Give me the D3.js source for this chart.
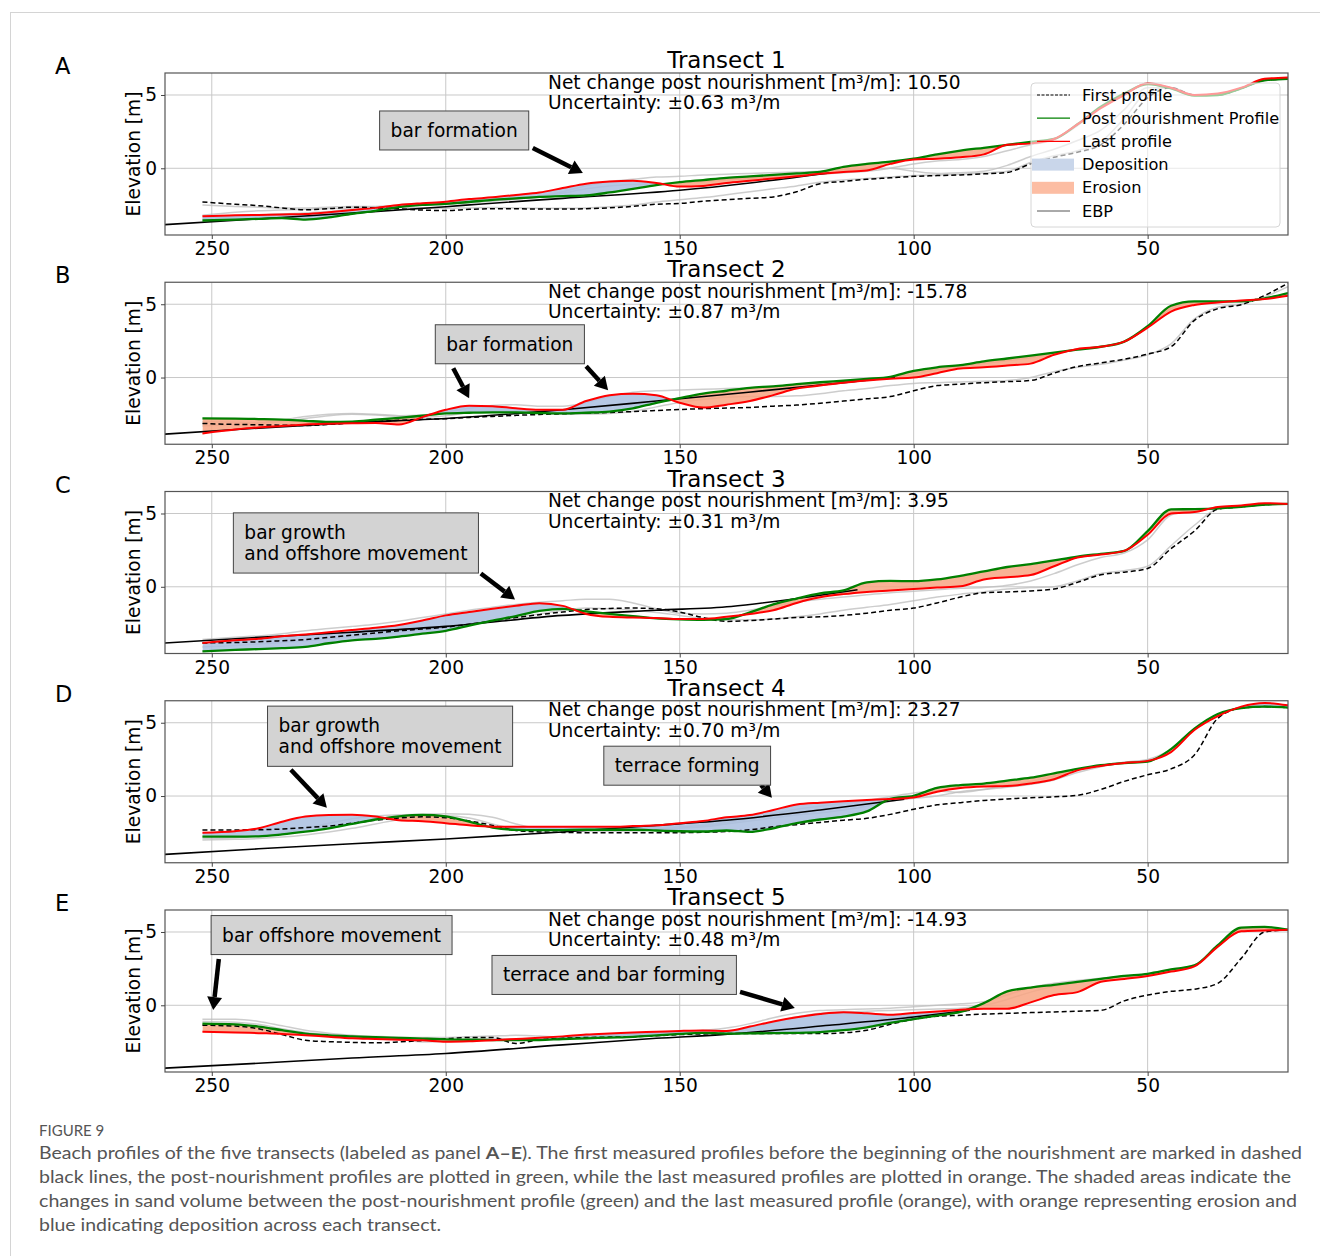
<!DOCTYPE html>
<html>
<head>
<meta charset="utf-8">
<script src="https://cdn.jsdelivr.net/npm/d3@7"></script>
<style>
  body { margin: 0; background: #fff; }
  svg { display: block; }
</style>
</head>
<body>
<div id="chart-container"></div>
<script>

// cross-shore distance grid [m] shared by all measured profiles
const dist = [252,245,240,235,230,225,220,215,210,205,200,195,190,185,180,175,170,165,160,155,150,145,140,135,130,125,120,115,110,105,100,95,90,85,80,75,70,65,60,55,50,45,40,35,30,25,20];

// Transect 1
const t1First = [-2.3,-2.45,-2.55,-2.7,-2.83,-2.75,-2.65,-2.7,-2.76,-2.85,-2.88,-2.8,-2.76,-2.76,-2.78,-2.78,-2.76,-2.7,-2.6,-2.45,-2.4,-2.25,-2.15,-2.05,-1.95,-1.6,-1.05,-0.9,-0.75,-0.65,-0.55,-0.5,-0.45,-0.38,-0.28,0.3,0.75,1.1,1.6,3.0,4.8,5.5,5.0,5.0,5.45,6.0,6.1];
const t1Post = [-3.56,-3.5,-3.45,-3.4,-3.5,-3.35,-3.1,-2.9,-2.65,-2.5,-2.42,-2.3,-2.15,-2.05,-1.95,-1.9,-1.85,-1.65,-1.4,-1.15,-0.95,-0.8,-0.65,-0.55,-0.45,-0.35,-0.25,0.1,0.3,0.45,0.66,0.95,1.2,1.4,1.6,1.8,2.0,3.0,4.2,5.1,5.75,5.45,4.95,5.0,5.45,6.0,6.1];
const t1Last = [-3.27,-3.2,-3.18,-3.15,-3.12,-3.0,-2.85,-2.7,-2.5,-2.38,-2.28,-2.1,-1.98,-1.82,-1.65,-1.35,-1.05,-0.9,-0.85,-1.0,-1.25,-1.2,-1.0,-0.85,-0.7,-0.55,-0.38,-0.25,-0.15,0.3,0.6,0.65,0.75,0.95,1.6,1.7,2.0,3.0,4.1,5.0,5.8,5.5,5.0,5.1,5.5,6.1,6.2];
const t1Gray = [
  [-2.5,-2.6,-2.65,-2.7,-2.7,-2.65,-2.6,-2.62,-2.65,-2.7,-2.72,-2.7,-2.68,-2.7,-2.72,-2.72,-2.7,-2.62,-2.5,-2.3,-2.15,-2.0,-1.8,-1.6,-1.4,-1.2,-0.95,-0.8,-0.7,-0.6,-0.5,-0.45,-0.4,-0.32,-0.2,0.4,0.85,1.2,1.8,3.4,5.2,5.5,5.0,5.0,5.45,6.0,6.1],
  [-3.4,-3.3,-3.2,-3.1,-3.05,-2.95,-2.8,-2.7,-2.6,-2.5,-2.45,-2.3,-2.2,-2.1,-1.95,-1.7,-1.4,-1.2,-1.1,-1.05,-1.0,-0.9,-0.8,-0.7,-0.6,-0.5,-0.4,-0.3,-0.2,0.0,0.3,0.5,0.6,0.8,1.2,1.6,1.95,2.9,4.1,5.0,5.75,5.45,4.95,5.0,5.45,6.0,6.1],
  [-3.2,-3.0,-2.9,-2.85,-2.8,-2.75,-2.7,-2.6,-2.55,-2.45,-2.4,-2.35,-2.25,-2.1,-1.9,-1.6,-1.2,-0.9,-0.75,-0.6,-0.55,-0.45,-0.4,-0.35,-0.3,-0.25,-0.2,-0.1,-0.05,0.0,-0.2,-0.35,-0.3,-0.2,0.2,0.8,1.3,1.9,2.6,4.0,5.5,5.5,5.0,5.0,5.45,6.0,6.1]
];
const t1Ebp = [[261,-3.86],[240,-3.45],[220,-3.05],[200,-2.62],[193,-2.45],[175,-2.05],[150,-1.5],[135,-1.0],[118,-0.32]];

// Transect 2
const t2First = [-3.13,-3.2,-3.22,-3.25,-3.27,-3.2,-3.1,-3.0,-2.92,-2.85,-2.81,-2.72,-2.65,-2.58,-2.52,-2.47,-2.42,-2.38,-2.32,-2.25,-2.18,-2.12,-2.08,-2.04,-1.95,-1.88,-1.75,-1.6,-1.45,-1.3,-0.9,-0.55,-0.45,-0.35,-0.28,-0.2,0.3,0.75,1.0,1.25,1.6,2.1,3.9,4.7,4.97,5.6,6.44];
const t2Post = [-2.79,-2.8,-2.83,-2.87,-2.95,-3.03,-3.0,-2.88,-2.75,-2.6,-2.45,-2.4,-2.37,-2.38,-2.42,-2.45,-2.4,-2.32,-2.1,-1.72,-1.4,-1.1,-0.9,-0.7,-0.6,-0.45,-0.32,-0.22,-0.1,0.05,0.45,0.7,0.85,1.1,1.3,1.5,1.7,1.9,2.1,2.45,3.5,4.9,5.2,5.2,5.2,5.4,5.76];
const t2Last = [-3.81,-3.55,-3.4,-3.3,-3.2,-3.15,-3.12,-3.1,-3.2,-2.7,-2.2,-1.92,-1.95,-2.1,-2.2,-2.2,-1.6,-1.2,-1.1,-1.2,-1.72,-2.05,-1.85,-1.6,-1.2,-0.75,-0.55,-0.35,-0.2,-0.08,0.0,0.3,0.62,0.7,0.82,0.95,1.55,1.95,2.1,2.45,3.4,4.5,4.95,5.12,5.25,5.35,5.58];
const t2Gray = [
  [-3.0,-3.05,-3.1,-3.0,-2.8,-2.6,-2.5,-2.55,-2.65,-2.7,-2.6,-2.4,-2.3,-2.3,-2.4,-2.5,-2.5,-2.45,-2.3,-2.0,-1.7,-1.5,-1.35,-1.3,-1.3,-1.25,-1.1,-0.9,-0.75,-0.55,-0.4,-0.35,-0.3,-0.25,-0.2,0.0,0.4,0.7,0.9,1.2,1.55,2.3,4.0,4.8,5.0,5.5,6.2],
  [-3.3,-3.2,-3.1,-2.9,-2.65,-2.5,-2.45,-2.5,-2.6,-2.55,-2.35,-2.1,-1.9,-1.85,-1.95,-1.95,-1.7,-1.3,-1.0,-0.9,-0.85,-0.8,-0.75,-0.7,-0.6,-0.5,-0.4,-0.3,-0.2,0.0,0.25,0.55,0.75,0.95,1.15,1.35,1.65,1.9,2.1,2.45,3.45,4.7,5.1,5.15,5.2,5.4,5.7]
];
const t2Ebp = [[261,-3.88],[240,-3.45],[220,-3.08],[200,-2.79],[175,-2.2],[155,-1.6],[137,-1.05],[114,-0.32],[104,0.02]];

// Transect 3
const t3First = [-3.83,-3.8,-3.75,-3.68,-3.6,-3.45,-3.3,-3.15,-3.0,-2.88,-2.75,-2.55,-2.33,-2.1,-1.9,-1.72,-1.55,-1.48,-1.45,-1.5,-1.72,-2.1,-2.36,-2.3,-2.2,-2.1,-2.05,-1.95,-1.8,-1.6,-1.45,-1.1,-0.7,-0.4,-0.35,-0.28,-0.15,0.3,0.82,1.0,1.25,2.6,3.8,5.3,5.45,5.6,5.65];
const t3Post = [-4.4,-4.3,-4.25,-4.18,-4.1,-3.85,-3.65,-3.55,-3.4,-3.2,-3.0,-2.65,-2.3,-2.0,-1.65,-1.5,-1.68,-1.85,-2.0,-2.15,-2.22,-2.25,-2.2,-1.75,-1.2,-0.8,-0.45,-0.25,0.3,0.4,0.38,0.5,0.75,1.05,1.35,1.55,1.8,2.05,2.25,2.45,3.8,5.28,5.3,5.35,5.45,5.6,5.65];
const t3Last = [-3.83,-3.65,-3.55,-3.38,-3.25,-3.1,-2.95,-2.8,-2.6,-2.3,-1.95,-1.72,-1.5,-1.3,-1.12,-1.3,-1.85,-2.05,-2.1,-2.13,-2.2,-2.2,-2.05,-1.85,-1.6,-1.1,-0.72,-0.5,-0.35,-0.25,-0.15,-0.05,0.03,0.5,0.65,0.8,1.4,2.0,2.2,2.45,3.55,5.0,5.1,5.45,5.55,5.7,5.65];
const t3Gray = [
  [-3.6,-3.45,-3.35,-3.2,-3.0,-2.85,-2.7,-2.55,-2.35,-2.1,-1.85,-1.6,-1.4,-1.2,-1.05,-0.95,-0.85,-0.85,-1.1,-1.5,-1.8,-1.85,-1.8,-1.6,-1.3,-1.05,-0.85,-0.7,-0.55,-0.4,-0.3,-0.2,-0.1,-0.05,0.1,0.4,0.9,1.5,2.0,2.3,3.2,4.9,5.2,5.35,5.45,5.6,5.65],
  [-4.1,-4.0,-3.9,-3.8,-3.7,-3.55,-3.4,-3.25,-3.1,-2.95,-2.8,-2.6,-2.35,-2.1,-1.85,-1.6,-1.45,-1.5,-1.6,-1.75,-1.95,-2.15,-2.25,-2.25,-2.2,-2.05,-1.85,-1.6,-1.4,-1.2,-0.95,-0.7,-0.5,-0.35,-0.15,-0.05,0.0,0.4,0.9,1.1,1.4,2.8,4.2,5.3,5.45,5.6,5.65]
];
const t3Ebp = [[261,-3.85],[240,-3.45],[220,-3.1],[200,-2.7],[175,-1.95],[155,-1.6],[139,-1.34],[125,-0.8],[112,-0.2]];

// Transect 4
const t4First = [-2.31,-2.31,-2.3,-2.25,-2.15,-2.05,-1.85,-1.65,-1.5,-1.42,-1.48,-1.7,-2.0,-2.35,-2.45,-2.48,-2.5,-2.5,-2.5,-2.5,-2.5,-2.47,-2.42,-2.3,-2.1,-1.95,-1.8,-1.65,-1.52,-1.25,-0.9,-0.6,-0.45,-0.3,-0.2,-0.12,-0.05,0.05,0.45,1.0,1.45,1.85,2.8,5.3,6.0,6.1,6.03];
const t4Post = [-2.77,-2.77,-2.75,-2.62,-2.43,-2.2,-1.9,-1.6,-1.38,-1.28,-1.38,-1.75,-2.15,-2.31,-2.33,-2.32,-2.3,-2.3,-2.3,-2.35,-2.4,-2.42,-2.35,-2.45,-2.2,-1.85,-1.6,-1.4,-1.05,-0.2,0.02,0.55,0.75,0.85,1.05,1.25,1.55,1.85,2.1,2.25,2.35,3.2,4.6,5.6,6.0,6.1,6.03];
const t4Last = [-2.5,-2.4,-2.2,-1.75,-1.4,-1.29,-1.28,-1.4,-1.65,-1.72,-1.85,-2.0,-2.09,-2.1,-2.1,-2.1,-2.1,-2.1,-2.05,-2.0,-1.85,-1.7,-1.45,-1.3,-0.95,-0.58,-0.45,-0.35,-0.27,-0.2,-0.1,0.3,0.55,0.65,0.68,0.85,1.15,1.75,2.05,2.25,2.4,3.0,4.5,5.45,6.1,6.35,6.19];
const t4Gray = [
  [-3.0,-2.95,-2.9,-2.8,-2.65,-2.45,-2.2,-1.9,-1.6,-1.4,-1.35,-1.5,-1.9,-2.25,-2.35,-2.38,-2.4,-2.4,-2.38,-2.3,-2.2,-2.1,-1.9,-1.7,-1.5,-1.3,-1.15,-0.95,-0.7,-0.35,-0.15,0.0,0.3,0.45,0.6,0.8,1.1,1.6,2.0,2.3,2.5,3.2,4.6,5.55,6.0,6.1,6.05],
  [-2.9,-2.85,-2.7,-2.5,-2.2,-1.85,-1.55,-1.35,-1.28,-1.25,-1.2,-1.25,-1.45,-1.9,-2.2,-2.25,-2.2,-2.2,-2.2,-2.2,-2.1,-2.0,-1.8,-1.55,-1.2,-0.9,-0.7,-0.5,-0.3,-0.05,0.2,0.35,0.25,0.45,0.75,1.0,1.35,1.8,2.1,2.3,2.45,3.1,4.55,5.5,6.05,6.2,6.1]
];
const t4Ebp = [[261,-4.0],[240,-3.6],[220,-3.25],[200,-2.93],[175,-2.45],[155,-2.0],[140,-1.65],[120,-0.95],[102,-0.22]];

// Transect 5
const t5First = [-1.36,-1.42,-1.6,-2.0,-2.38,-2.48,-2.53,-2.56,-2.5,-2.4,-2.28,-2.2,-2.2,-2.6,-2.35,-2.25,-2.2,-2.17,-2.15,-2.08,-2.0,-1.95,-1.93,-1.93,-1.93,-1.93,-1.93,-1.88,-1.7,-1.3,-0.95,-0.75,-0.68,-0.6,-0.55,-0.5,-0.45,-0.4,-0.35,0.3,0.7,0.95,1.1,1.5,3.2,5.0,5.15];
const t5Post = [-1.25,-1.3,-1.45,-1.7,-1.93,-2.05,-2.12,-2.18,-2.22,-2.27,-2.32,-2.35,-2.37,-2.38,-2.37,-2.3,-2.25,-2.2,-2.15,-2.05,-1.95,-1.88,-1.93,-1.92,-1.9,-1.88,-1.83,-1.7,-1.5,-1.2,-0.95,-0.7,-0.45,0.15,0.95,1.2,1.4,1.6,1.8,2.0,2.15,2.45,2.72,4.1,5.3,5.35,5.15];
const t5Last = [-1.81,-1.85,-1.9,-1.95,-2.04,-2.15,-2.25,-2.3,-2.35,-2.38,-2.48,-2.45,-2.38,-2.3,-2.22,-2.12,-2.0,-1.92,-1.85,-1.8,-1.75,-1.72,-1.75,-1.45,-1.1,-0.82,-0.6,-0.48,-0.55,-0.65,-0.52,-0.42,-0.3,-0.23,-0.23,0.2,0.7,0.9,1.6,1.8,2.0,2.3,2.65,4.0,5.05,5.1,5.15];
const t5Gray = [
  [-0.95,-0.95,-1.1,-1.4,-1.7,-1.9,-2.05,-2.12,-2.18,-2.2,-2.2,-2.15,-2.1,-2.05,-2.1,-2.15,-2.1,-2.05,-2.0,-1.9,-1.8,-1.7,-1.55,-1.25,-0.85,-0.55,-0.35,-0.3,-0.25,-0.2,-0.1,0.0,0.1,0.25,0.7,1.2,1.5,1.7,1.85,2.0,2.15,2.45,2.75,4.0,5.2,5.3,5.15],
  [-1.1,-1.15,-1.3,-1.6,-1.85,-2.0,-2.1,-2.2,-2.3,-2.5,-2.45,-2.3,-2.25,-2.3,-2.25,-2.2,-2.1,-2.0,-1.95,-1.9,-1.85,-1.8,-1.75,-1.5,-1.15,-0.8,-0.55,-0.45,-0.4,-0.35,-0.3,-0.25,-0.2,0.0,0.4,0.9,1.3,1.55,1.75,1.95,2.1,2.4,2.7,4.0,5.1,5.2,5.15]
];
const t5Ebp = [[261,-4.3],[240,-3.95],[220,-3.6],[200,-3.29],[175,-2.7],[155,-2.25],[141,-2.0],[118,-1.36],[100,-0.8],[88,-0.34]];

const panelLabels = ["A", "B", "C", "D", "E"];
const netChange = ["10.50", "-15.78", "3.95", "23.27", "-14.93"];
const uncertainty = ["0.63", "0.87", "0.31", "0.70", "0.48"];
const xTicks = [250, 200, 150, 100, 50];
const yTicks = [0, 5];
const legendLabels = ["First profile", "Post nourishment Profile", "Last profile", "Deposition", "Erosion", "EBP"];

// annotations: box centre and arrows (start, tip) in data units [distance, elevation]
const t1Notes = [{ lines: ["bar formation"], at: [198.2, 2.58], arrows: [[[181.4, 1.38], [170.7, -0.32]]] }];
const t2Notes = [{ lines: ["bar formation"], at: [186.3, 2.27], arrows: [[[198.4, 0.63], [195.0, -1.41]], [[170.0, 0.77], [165.3, -0.87]]] }];
const t3Notes = [{ lines: ["bar growth", "and offshore movement"], at: [219.2, 2.99], arrows: [[[192.5, 0.91], [185.2, -0.87]]] }];
const t4Notes = [
  { lines: ["bar growth", "and offshore movement"], at: [211.9, 4.08], arrows: [[[233.1, 1.79], [225.4, -0.8]]] },
  { lines: ["terrace forming"], at: [148.4, 2.07], arrows: [[[132.6, 0.75], [130.3, -0.12]]] }
];
const t5Notes = [
  { lines: ["bar offshore movement"], at: [224.4, 4.79], arrows: [[[248.5, 3.16], [249.7, -0.32]]] },
  { lines: ["terrace and bar forming"], at: [164.0, 2.07], arrows: [[[137.1, 0.91], [125.4, -0.18]]] }
];

const transects = [
  { first: t1First, post: t1Post, last: t1Last, grays: t1Gray, ebp: t1Ebp, notes: t1Notes },
  { first: t2First, post: t2Post, last: t2Last, grays: t2Gray, ebp: t2Ebp, notes: t2Notes },
  { first: t3First, post: t3Post, last: t3Last, grays: t3Gray, ebp: t3Ebp, notes: t3Notes },
  { first: t4First, post: t4Post, last: t4Last, grays: t4Gray, ebp: t4Ebp, notes: t4Notes },
  { first: t5First, post: t5Post, last: t5Last, grays: t5Gray, ebp: t5Ebp, notes: t5Notes }
];

const font = "'DejaVu Sans', sans-serif";
const svgWidth = 1320, svgHeight = 1256;
const plotLeft = 165, plotRight = 1288, plotH = 162, firstTop = 73, panelStep = 209.25;
const fs = 18.6;

const colPost = "#008000", colLast = "#ff0000";
const colDep = "#a9bedf", colEro = "#f8a482";

const svg = d3.select("#chart-container").append("svg")
    .attr("width", svgWidth)
    .attr("height", svgHeight)
    .style("font-family", font);

svg.append("rect").attr("width", svgWidth).attr("height", svgHeight).attr("fill", "#fff");
svg.append("line").attr("x1", 10.5).attr("x2", 10.5).attr("y1", 12).attr("y2", svgHeight).attr("stroke", "#d4d4d4");
svg.append("line").attr("x1", 10).attr("x2", svgWidth).attr("y1", 12.5).attr("y2", 12.5).attr("stroke", "#d4d4d4");

const scaleX = d3.scaleLinear().domain([260, 20]).range([plotLeft, plotRight]);

function drawArrow(g, x1, y1, x2, y2) {
    const a = Math.atan2(y2 - y1, x2 - x1), hl = 13, hw = 7.5;
    const bx = x2 - hl * Math.cos(a), by = y2 - hl * Math.sin(a);
    g.append("line")
        .attr("x1", x1).attr("y1", y1).attr("x2", bx).attr("y2", by)
        .attr("stroke", "#000").attr("stroke-width", 4.5);
    const pts = [[x2, y2], [bx + hw * Math.sin(a), by - hw * Math.cos(a)], [bx - hw * Math.sin(a), by + hw * Math.cos(a)]];
    g.append("polygon").attr("points", pts.map(p => p.join(",")).join(" ")).attr("fill", "#000");
}

transects.forEach(function(t, k) {
    const top = firstTop + k * panelStep, bottom = top + plotH;
    const scaleY = d3.scaleLinear().domain([-4.55, 6.5]).range([bottom, top]);
    const rows = dist.map((d, i) => ({ d: d, post: t.post[i], last: t.last[i] }));

    const defs = svg.append("defs");
    defs.append("clipPath").attr("id", "plot" + k).append("rect")
        .attr("x", plotLeft).attr("y", top).attr("width", plotRight - plotLeft).attr("height", plotH);
    defs.append("clipPath").attr("id", "above" + k).append("path")
        .attr("d", d3.area().x(r => scaleX(r.d)).y0(top).y1(r => scaleY(r.post)).curve(d3.curveMonotoneX)(rows));
    defs.append("clipPath").attr("id", "below" + k).append("path")
        .attr("d", d3.area().x(r => scaleX(r.d)).y0(bottom).y1(r => scaleY(r.post)).curve(d3.curveMonotoneX)(rows));

    const panel = svg.append("g");

    // grid
    panel.selectAll(".vgrid").data(xTicks).enter().append("line")
        .attr("x1", d => scaleX(d)).attr("x2", d => scaleX(d))
        .attr("y1", top).attr("y2", bottom)
        .attr("stroke", "#c8c8c8").attr("stroke-width", 1);
    panel.selectAll(".hgrid").data(yTicks).enter().append("line")
        .attr("x1", plotLeft).attr("x2", plotRight)
        .attr("y1", d => scaleY(d)).attr("y2", d => scaleY(d))
        .attr("stroke", "#c8c8c8").attr("stroke-width", 1);

    const plot = panel.append("g").attr("clip-path", `url(#plot${k})`);

    const lineGen = d3.line()
        .x((v, i) => scaleX(dist[i]))
        .y(v => scaleY(v))
        .curve(d3.curveMonotoneX);

    t.grays.forEach(function(gp) {
        plot.append("path").datum(gp)
            .attr("fill", "none").attr("stroke", "#bcbcbc").attr("stroke-width", 1.5)
            .attr("stroke-opacity", 0.75).attr("d", lineGen);
    });

    const between = d3.area()
        .x(r => scaleX(r.d))
        .y0(r => scaleY(r.post))
        .y1(r => scaleY(r.last))
        .curve(d3.curveMonotoneX);

    plot.append("g").attr("clip-path", `url(#above${k})`)
        .append("path").datum(rows).attr("d", between)
        .attr("fill", colDep).attr("fill-opacity", 0.85);
    plot.append("g").attr("clip-path", `url(#below${k})`)
        .append("path").datum(rows).attr("d", between)
        .attr("fill", colEro).attr("fill-opacity", 0.85);

    plot.append("path").datum(t.ebp)
        .attr("fill", "none").attr("stroke", "#000").attr("stroke-width", 1.6)
        .attr("d", d3.line().x(p => scaleX(p[0])).y(p => scaleY(p[1])).curve(d3.curveMonotoneX));

    plot.append("path").datum(t.first)
        .attr("fill", "none").attr("stroke", "#000").attr("stroke-width", 1.5)
        .attr("stroke-dasharray", "5,3").attr("d", lineGen);
    plot.append("path").datum(t.post)
        .attr("fill", "none").attr("stroke", colPost).attr("stroke-width", 2.3).attr("d", lineGen);
    plot.append("path").datum(t.last)
        .attr("fill", "none").attr("stroke", colLast).attr("stroke-width", 2).attr("d", lineGen);

    // frame
    panel.append("rect")
        .attr("x", plotLeft).attr("y", top).attr("width", plotRight - plotLeft).attr("height", plotH)
        .attr("fill", "none").attr("stroke", "#555").attr("stroke-width", 1.2);

    // axes
    const ax = panel.append("g").attr("transform", `translate(0,${bottom})`)
        .call(d3.axisBottom(scaleX).tickValues(xTicks).tickSize(4).tickPadding(3));
    const ay = panel.append("g").attr("transform", `translate(${plotLeft},0)`)
        .call(d3.axisLeft(scaleY).tickValues(yTicks).tickSize(4).tickPadding(4));
    [ax, ay].forEach(function(a) {
        a.select(".domain").remove();
        a.attr("font-size", fs).attr("font-family", font);
        a.selectAll("line").attr("stroke", "#444");
        a.selectAll("text").attr("fill", "#000");
    });

    panel.append("text")
        .attr("transform", `translate(133,${(top + bottom) / 2}) rotate(-90)`)
        .attr("dy", "0.35em")
        .attr("text-anchor", "middle")
        .attr("font-size", fs)
        .text("Elevation [m]");

    panel.append("text")
        .attr("x", 55).attr("y", top + 1)
        .attr("font-size", 22.5)
        .text(panelLabels[k]);

    panel.append("text")
        .attr("x", (plotLeft + plotRight) / 2).attr("y", top - 5)
        .attr("text-anchor", "middle")
        .attr("font-size", 23)
        .text("Transect " + (k + 1));

    panel.append("text")
        .attr("x", plotLeft + 383).attr("y", top + 15.5)
        .attr("font-size", fs)
        .text("Net change post nourishment [m\u00b3/m]: " + netChange[k]);
    panel.append("text")
        .attr("x", plotLeft + 383).attr("y", top + 36)
        .attr("font-size", fs)
        .text("Uncertainty: \u00b1" + uncertainty[k] + " m\u00b3/m");

    // annotations
    t.notes.forEach(function(n) {
        n.arrows.forEach(function(ar) {
            drawArrow(panel, scaleX(ar[0][0]), scaleY(ar[0][1]), scaleX(ar[1][0]), scaleY(ar[1][1]));
        });
        const box = panel.append("g");
        const txt = box.append("text").attr("font-size", fs);
        n.lines.forEach(function(s, i) {
            txt.append("tspan").attr("x", 0).attr("dy", i ? "1.14em" : 0).text(s);
        });
        const bb = txt.node().getBBox();
        box.insert("rect", "text")
            .attr("x", bb.x - 11).attr("y", bb.y - 9)
            .attr("width", bb.width + 22).attr("height", bb.height + 18)
            .attr("fill", "#d3d3d3").attr("stroke", "#444").attr("stroke-width", 1);
        box.attr("transform", `translate(${scaleX(n.at[0]) - bb.x - bb.width / 2},${scaleY(n.at[1]) - bb.y - bb.height / 2})`);
    });

    // legend on the first panel
    if (k === 0) {
        const lg = panel.append("g").attr("transform", `translate(1031,${top + 10})`);
        lg.append("rect")
            .attr("width", 249).attr("height", 144).attr("rx", 4)
            .attr("fill", "#fff").attr("fill-opacity", 0.6)
            .attr("stroke", "#d6d6d6");
        legendLabels.forEach(function(lbl, i) {
            const cy = 12 + i * 23.2;
            if (i === 3 || i === 4) {
                lg.append("rect").attr("x", 1).attr("y", cy - 6).attr("width", 42).attr("height", 12)
                    .attr("fill", i === 3 ? "#c9d6ea" : "#fcbda3");
            } else {
                const ln = lg.append("line").attr("x1", 6).attr("x2", 39).attr("y1", cy).attr("y2", cy);
                if (i === 0) ln.attr("stroke", "#000").attr("stroke-width", 1).attr("stroke-dasharray", "3,1.5");
                if (i === 1) ln.attr("stroke", colPost).attr("stroke-width", 1.3);
                if (i === 2) ln.attr("stroke", colLast).attr("stroke-width", 1.3);
                if (i === 5) ln.attr("stroke", "#555").attr("stroke-width", 1);
            }
            lg.append("text").attr("x", 51).attr("y", cy).attr("dy", "0.35em")
                .attr("font-size", 16.2).text(lbl);
        });
    }
});

// caption
svg.append("text")
    .attr("x", 39).attr("y", 1136)
    .attr("font-family", "Lato, 'Open Sans', sans-serif")
    .attr("font-size", 15).attr("fill", "#555")
    .text("FIGURE 9");

const captionLines = [
    ["Beach profiles of the five transects (labeled as panel ", "A\u2013E", "). The first measured profiles before the beginning of the nourishment are marked in dashed"],
    ["black lines, the post-nourishment profiles are plotted in green, while the last measured profiles are plotted in orange. The shaded areas indicate the"],
    ["changes in sand volume between the post-nourishment profile (green) and the last measured profile (orange), with orange representing erosion and"],
    ["blue indicating deposition across each transect."]
];
const captionWidths = [1263, 1252, 1258, 402];

captionLines.forEach(function(parts, i) {
    const tx = svg.append("text")
        .attr("x", 39).attr("y", 1159 + i * 24)
        .attr("font-family", "Lato, 'Open Sans', sans-serif")
        .attr("font-size", 17).attr("fill", "#555")
        .attr("textLength", captionWidths[i])
        .attr("lengthAdjust", "spacingAndGlyphs");
    parts.forEach(function(p, j) {
        tx.append("tspan").attr("font-weight", j === 1 ? "bold" : null).text(p);
    });
});

</script>
</body>
</html>
